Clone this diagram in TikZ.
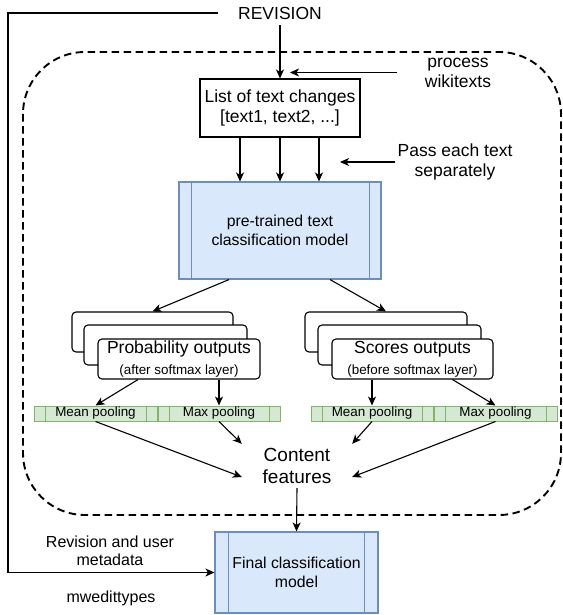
\documentclass[tikz,border=0pt]{standalone}
\usepackage{fontspec}
\setmainfont{Liberation Sans}
\usetikzlibrary{arrows.meta}
\definecolor{bluefill}{HTML}{DAE8FC}
\definecolor{bluedraw}{HTML}{6C8EBF}
\definecolor{greenfill}{HTML}{D5E8D4}
\definecolor{greendraw}{HTML}{82B366}
\begin{document}
\begin{tikzpicture}[x=1pt,y=-1pt,
  arr/.style={-{Stealth[length=9pt,width=8pt,inset=2.5pt]}, line width=1.1pt},
  bigfont/.style={font=\fontsize{17.5}{20}\selectfont},
  midfont/.style={font=\fontsize{15.8}{19}\selectfont},
  whitebox/.style={draw, line width=1.1pt, fill=white, inner sep=0pt, align=center, bigfont},
  stackbox/.style={draw, line width=1.1pt, fill=white, rounded corners=4pt, inner sep=0pt, minimum height=40pt, align=center, bigfont},
  procbox/.style={draw=bluedraw, line width=1.1pt, fill=bluefill, inner sep=0pt, align=center, midfont},
  poolbox/.style={draw=greendraw, line width=1pt, fill=greenfill, inner sep=0pt, minimum height=15pt, font=\fontsize{13.4}{15}\selectfont},
  plaintext/.style={inner sep=0pt, align=center},
  dashframe/.style={line width=1.9pt, dash pattern=on 7.5pt off 4.5pt, rounded corners=62pt}
]
\useasboundingbox (0,0) rectangle (562,615);

% dashed frame
\draw[dashframe] (23,52) rectangle (561,515);

% top texts
\node[plaintext, bigfont] (rev) at (280,13) {REVISION};
\node[plaintext, bigfont] (proc) at (458,73) {process\\wikitexts};
\node[plaintext, bigfont] (pass) at (455,162) {Pass each text\\separately};

% list box
\node[whitebox, minimum width=160pt, minimum height=58pt] (list) at (280,108) {List of text changes\\{[text1, text2, ...]}};

% pre-trained model
\node[procbox, minimum width=202pt, minimum height=97pt] (pre) at (280,230.5) {pre-trained text\\classification model};
\draw[bluedraw, line width=1.1pt] ([xshift=13pt]pre.north west) -- ([xshift=13pt]pre.south west);
\draw[bluedraw, line width=1.1pt] ([xshift=-12pt]pre.north east) -- ([xshift=-12pt]pre.south east);

% left stack
\node[stackbox, minimum width=161pt] (lback) at (152.5,332) {};
\node[stackbox, minimum width=163pt] (lmid) at (165.5,345) {};
\node[stackbox, minimum width=162pt] (lfront) at (179,359) {Probability outputs\\[1pt]{\fontsize{13.4}{16}\selectfont (after softmax layer)}};

% right stack
\node[stackbox, minimum width=162pt] (rback) at (386,332) {};
\node[stackbox, minimum width=163pt] (rmid) at (399.5,345) {};
\node[stackbox, minimum width=161pt] (rfront) at (412.5,359) {Scores outputs\\[1pt]{\fontsize{13.4}{16}\selectfont (before softmax layer)}};

% pooling bars
\node[poolbox, minimum width=123pt] (lmean) at (95.5,413.5) {Mean pooling};
\node[poolbox, minimum width=122pt] (lmax) at (219,413.5) {Max pooling};
\node[poolbox, minimum width=122pt] (rmean) at (372,413.5) {Mean pooling};
\node[poolbox, minimum width=123pt] (rmax) at (495.5,413.5) {Max pooling};
\foreach \p in {lmean,lmax,rmean,rmax}{
  \draw[greendraw, line width=1pt] ([xshift=11.5pt]\p.north west) -- ([xshift=11.5pt]\p.south west);
  \draw[greendraw, line width=1pt] ([xshift=-11.5pt]\p.north east) -- ([xshift=-11.5pt]\p.south east);
}

% content features
\node[plaintext, font=\fontsize{19}{22}\selectfont, minimum width=110pt, minimum height=44pt] (content) at (297,466) {Content\\features};

% final model
\node[procbox, minimum width=163pt, minimum height=81pt] (final) at (296.5,572.5) {Final classification\\model};
\draw[bluedraw, line width=1.1pt] ([xshift=14pt]final.north west) -- ([xshift=14pt]final.south west);
\draw[bluedraw, line width=1.1pt] ([xshift=-14pt]final.north east) -- ([xshift=-14pt]final.south east);

% bottom-left texts
\node[plaintext, font=\fontsize{16}{18.5}\selectfont] (meta) at (110,551) {Revision and user\\metadata};
\node[plaintext, font=\fontsize{16}{18.5}\selectfont] (mwe) at (111,598) {mwedittypes};

% coordinates for free ends
\coordinate (revl) at (218,13);
\coordinate (lcorner) at (8,13);
\coordinate (procstart) at (397,72.5);
\coordinate (proctip) at (290,72.5);
\coordinate (passstart) at (395,162);
\coordinate (passtip) at (340,162);

% connectors
\draw[line width=1.1pt, -{Stealth[length=9pt,width=8pt,inset=2.5pt]}] (revl) -- (lcorner) |- (final.west);
\draw[arr] (rev.south) ++(0,-6pt) -- (list.north);
\draw[arr] (procstart) -- (proctip);
\draw[arr] (passstart) -- (passtip);

\draw[arr] ([xshift=-40pt]list.south) -- ([xshift=-40pt]list.south |- pre.north);
\draw[arr] (list.south) -- (pre.north);
\draw[arr] ([xshift=39pt]list.south) -- ([xshift=39pt]list.south |- pre.north);

\draw[arr] ([xshift=-51pt]pre.south) -- (lback.north);
\draw[arr] ([xshift=50pt]pre.south) -- (rback.north);

\draw[arr] ([xshift=-41pt]lfront.south) -- (lmean.north);
\draw[arr] (lfront.south -| lmax.north) -- (lmax.north);
\draw[arr] (rfront.south -| rmean.north) -- (rmean.north);
\draw[arr] ([xshift=40pt]rfront.south) -- (rmax.north);

\draw[arr] (lmean.south) -- ([yshift=-11pt]content.west);
\draw[arr] (lmax.south) -- (content.north west);
\draw[arr] (rmean.south) -- (content.north east);
\draw[arr] (rmax.south) -- ([yshift=-11pt]content.east);

\draw[arr] (content.south) -- (final.north);
\end{tikzpicture}
\end{document}
